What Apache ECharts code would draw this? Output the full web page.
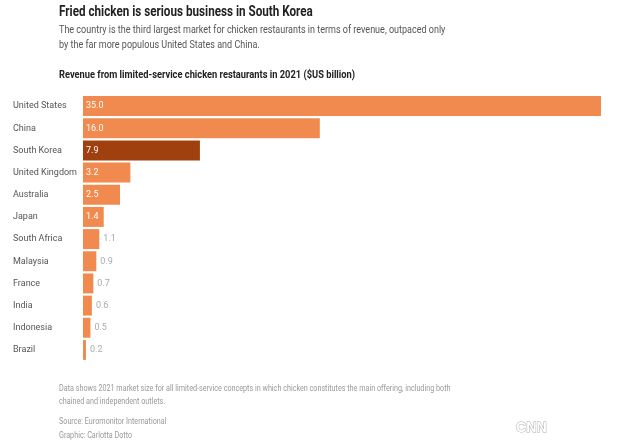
<!DOCTYPE html>
<html><head><meta charset="utf-8">
<script src="https://cdn.jsdelivr.net/npm/echarts@6/dist/echarts.min.js"></script>
<style>html,body{margin:0;padding:0;background:#fff}#c{width:630px;height:445px}</style>
</head><body><div id="c"></div>
<script>
const countries = ["United States","China","South Korea","United Kingdom","Australia","Japan","South Africa","Malaysia","France","India","Indonesia","Brazil"];
const revenue = [35.0,16.0,7.9,3.2,2.5,1.4,1.1,0.9,0.7,0.6,0.5,0.2];
const highlight = "South Korea";
const insideThreshold = 1.3;

const FONT = "Roboto, 'Liberation Sans', Arial, sans-serif";
const chart = echarts.init(document.getElementById('c'), null, {renderer:'canvas'});
const data = revenue.map((v,i)=>({
  value:v,
  itemStyle:{color: countries[i]===highlight ? '#A0400F' : '#F08A4F'},
  label: v>=insideThreshold
    ? {position:'insideLeft', distance:3, color:'#fff'}
    : {position:'right', distance:4, color:'#aaa'}
}));
function txt(text, x, y, font, fill, sx){
  return {type:'text', x:x, y:y, scaleX:sx, silent:true,
    style:{text:text, font:font, fill:fill, textVerticalAlign:'middle', textAlign:'left'}};
}
chart.setOption({
  animation:false,
  textStyle:{fontFamily:FONT},
  graphic:[
    txt("Fried chicken is serious business in South Korea", 59, 12, "bold 14px Roboto", '#222', 0.835),
    txt("The country is the third largest market for chicken restaurants in terms of revenue, outpaced only", 59, 30, "11px Roboto", '#555', 0.82),
    txt("by the far more populous United States and China.", 59, 45, "11px Roboto", '#555', 0.82),
    txt("Revenue from limited-service chicken restaurants in 2021 ($US billion)", 59, 75, "bold 11px Roboto", '#222', 0.846),
    txt("Data shows 2021 market size for all limited-service concepts in which chicken constitutes the main offering, including both", 59, 389, "9px Roboto", '#999', 0.8),
    txt("chained and independent outlets.", 59, 402, "9px Roboto", '#999', 0.8),
    txt("Source: Euromonitor International", 59, 422, "9px Roboto", '#999', 0.8),
    txt("Graphic: Carlotta Dotto", 59, 436, "9px Roboto", '#999', 0.8),
    {type:'text', x:516, y:428, scaleX:0.95, silent:true,
     style:{text:"CNN", font:"bold 15px 'Liberation Sans'", fill:'#fff', stroke:'#aaa', lineWidth:1, textVerticalAlign:'middle'}}
  ],
  grid:{left:83, right:29, top:95, height:266, containLabel:false},
  xAxis:{type:'value', min:0, max:35, show:false},
  yAxis:{type:'category', data:countries, inverse:true,
    axisLine:{show:false}, axisTick:{show:false},
    axisLabel:{align:'left', margin:70, fontSize:9, color:'#555', fontFamily:FONT}},
  series:[{type:'bar', data:data, barCategoryGap:'10%',
    label:{show:true, fontSize:9, fontFamily:FONT, formatter:p=>p.value.toFixed(1)}}]
});
</script></body></html>
